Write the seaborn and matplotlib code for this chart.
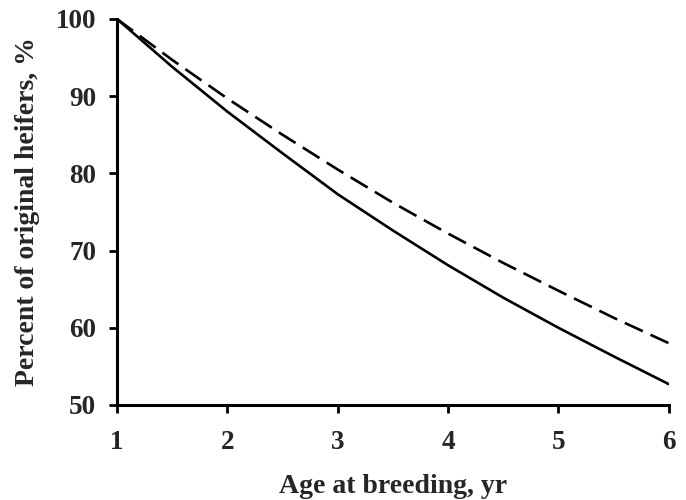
import matplotlib
matplotlib.use("Agg")
import matplotlib.pyplot as plt
import seaborn as sns
import pandas as pd

age = [1.0, 1.5, 2.0, 2.5, 3.0, 3.5, 4.0, 4.5, 5.0, 5.5, 6.0]
solid_pct = [100.0, 93.8, 88.0, 82.6, 77.3, 72.6, 68.1, 63.9, 60.0, 56.3, 52.7]
dashed_pct = [100.0, 94.7, 89.7, 85.0, 80.5, 76.2, 72.2, 68.4, 64.8, 61.3, 58.0]
xticks = [1, 2, 3, 4, 5, 6]
yticks = [50, 60, 70, 80, 90, 100]

sns.set_theme(style="ticks")
plt.rcParams['font.family'] = ['Liberation Serif', 'DejaVu Serif']
plt.rcParams['font.weight'] = 'bold'

df = pd.DataFrame({
    "age": age * 2,
    "pct": solid_pct + dashed_pct,
    "series": ["solid"] * len(age) + ["dashed"] * len(age),
})

fig = plt.figure(figsize=(6.86, 5.0), dpi=100)
ax = fig.add_axes([0.1706, 0.19, 0.8044, 0.772])

sns.lineplot(data=df, x="age", y="pct", hue="series", style="series",
             palette={"solid": "black", "dashed": "black"},
             dashes={"solid": "", "dashed": (7.5, 3.2)},
             linewidth=1.9, legend=False, ax=ax)

ax.set_xlim(1, 6)
ax.set_ylim(50, 100)
ax.set_xticks(xticks)
ax.set_yticks(yticks)
ax.set_xticklabels([str(t) for t in xticks], fontsize=19.5, fontweight='bold')
ax.set_yticklabels([str(t) for t in yticks], fontsize=19.5, fontweight='bold')
ax.set_xlabel("Age at breeding, yr", fontsize=20, fontweight='bold', labelpad=14)
ax.set_ylabel("Percent of original heifers, %", fontsize=20, fontweight='bold', labelpad=11)

for s in ["top", "right"]:
    ax.spines[s].set_visible(False)
for s in ["left", "bottom"]:
    ax.spines[s].set_linewidth(2.2)
    ax.spines[s].set_color("black")
ax.tick_params(axis='both', direction='out', length=6, width=2, color='black')
ax.tick_params(axis='y', pad=9)
ax.tick_params(axis='x', pad=12)
ax.margins(0)

fig.savefig("out.png", dpi=100, facecolor="white")
